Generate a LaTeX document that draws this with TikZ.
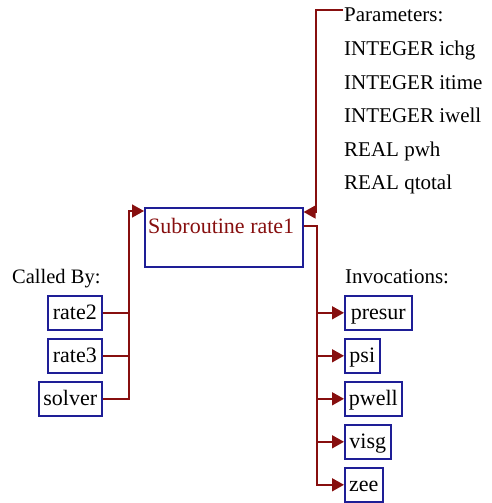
\documentclass[tikz,border=0pt]{standalone}
\usepackage{fontspec}
\setmainfont{Liberation Serif}
\usetikzlibrary{arrows.meta}
\definecolor{linkred}{RGB}{135,15,15}
\definecolor{boxblue}{RGB}{30,30,150}
\begin{document}
\begin{tikzpicture}[x=1pt,y=-1pt,
  every node/.style={font=\fontsize{21}{24}\selectfont, inner sep=0pt},
  fbox/.style={draw=boxblue, line width=1.6pt, anchor=north west, minimum height=34pt, text height=14pt, text depth=0pt, font=\fontsize{22}{24}\selectfont},
  lbl/.style={anchor=base west},
  link/.style={draw=linkred, line width=1.6pt},
  tip/.style={-{Triangle[length=12pt,width=13pt]}}]
\useasboundingbox (0,0) rectangle (492,503);
% main box
\node[draw=boxblue, line width=1.6pt, anchor=north west, minimum width=158pt, minimum height=59pt] (main) at (144,207) {};
\node[lbl, text=linkred, font=\fontsize{22}{24}\selectfont] (maintitle) at (148,233) {Subroutine rate1};
% called by
\node[lbl, font=\fontsize{20.5}{24}\selectfont] (calledby) at (12,283) {Called By:};
\node[fbox, minimum width=54pt] (rate2) at (47,295) {rate2};
\node[fbox, minimum width=54pt] (rate3) at (47,338) {rate3};
\node[fbox, minimum width=63pt] (solver) at (38,381) {solver};
\coordinate (lbus) at (129,211);
\draw[link] (rate2.east) -- (rate2.east -| lbus);
\draw[link] (rate3.east) -- (rate3.east -| lbus);
\draw[link,tip] (solver.east) -| (lbus) -- (main.west |- lbus);
% parameters
\node[lbl] (ptitle) at (344,22) {Parameters:};
\node[lbl] (p1) at (344,55.5) {INTEGER ichg};
\node[lbl] (p2) at (344,89) {INTEGER itime};
\node[lbl] (p3) at (344,122.5) {INTEGER iwell};
\node[lbl] (p4) at (344,156) {REAL pwh};
\node[lbl] (p5) at (344,189.5) {REAL qtotal};
\coordinate (pstart) at (343,10);
\coordinate (ptop) at (316,10);
\coordinate (pjoin) at (316,212);
\draw[link,tip] (pstart) -- (ptop) -- (pjoin) -- (main.east |- pjoin);
% invocations
\node[lbl] (invoc) at (345,283) {Invocations:};
\node[fbox, minimum width=67pt] (presur) at (344,295) {presur};
\node[fbox, minimum width=35pt] (psi) at (344,338) {psi};
\node[fbox, minimum width=57pt] (pwell) at (344,381) {pwell};
\node[fbox, minimum width=46pt] (visg) at (344,424) {visg};
\node[fbox, minimum width=38pt] (zee) at (344,467) {zee};
\coordinate (rbus) at (317,226);
\draw[link,tip] (main.east |- rbus) -- (rbus) |- (zee.west);
\draw[link,tip] (rbus |- presur.west) -- (presur.west);
\draw[link,tip] (rbus |- psi.west) -- (psi.west);
\draw[link,tip] (rbus |- pwell.west) -- (pwell.west);
\draw[link,tip] (rbus |- visg.west) -- (visg.west);
\end{tikzpicture}
\end{document}
